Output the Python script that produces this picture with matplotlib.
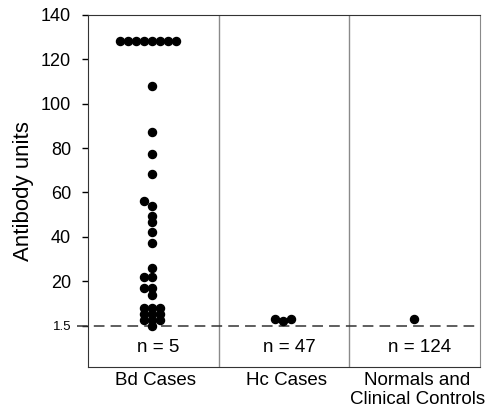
import numpy as np
import matplotlib.pyplot as plt

plt.rcParams['font.family'] = ['Liberation Sans', 'DejaVu Sans']

groups = ['Bd Cases', 'Hc Cases', 'Normals and\nClinical Controls']
n_text = ['n = 5', 'n = 47', 'n = 124']

bd = [128, 128, 128, 128, 128, 128, 128, 128,
      108, 87, 77.5, 68.5, 54, 56, 49.5, 46.5, 42, 37,
      26, 22, 22, 17, 17, 14,
      8, 8, 8, 5.3, 5.3, 5.3, 2.6, 2.6, 2.6, 0]
hc = [2.2, 3.2, 3.2]
normals = [3.2]
values = [bd, hc, normals]

cutoff_label = '1.5'
yticks = [0, 20, 40, 60, 80, 100, 120, 140]

fig = plt.figure(figsize=(4.91, 4.12), dpi=100)
ax = fig.add_axes([0.179, 0.110, 0.799, 0.854])
ax.set_xlim(0, 3)
ax.set_ylim(-18.5, 140)

# simple swarm: put each point in the first free column
def swarm(vals, center, step=0.062, min_px=5.5):
    ppx = 392 / 3.0
    ppy = 351.7 / 158.5
    order = [0, -1, 1, -2, 2, -3, 3, -4, 4, -5, 5]
    placed = []
    xs = []
    for v in vals:
        for k in order:
            x = center + k * step
            ok = True
            for (px, pv) in placed:
                d = np.hypot((x - px) * ppx, (v - pv) * ppy)
                if d < min_px:
                    ok = False
                    break
            if ok:
                break
        placed.append((x, v))
        xs.append(x)
    return xs

for i, vals in enumerate(values):
    xs = swarm(vals, i + 0.49)
    ax.plot(xs, vals, 'o', color='black', markersize=5.8, zorder=3)
    ax.text(i + 0.54, -9.8, n_text[i], ha='center', va='center', fontsize=13.5)

for xv in [1, 2]:
    ax.axvline(xv, color='#8a8a8a', lw=1.0)

ax.plot([-0.085, 3], [0, 0], color='#333333', lw=1.1, dashes=(7, 4),
        clip_on=False, zorder=2)

ax.set_yticks(yticks)
ax.set_yticklabels([cutoff_label] + [str(t) for t in yticks[1:]])
ax.tick_params(axis='y', labelsize=13, length=4, width=1, pad=8)
ax.get_yticklabels()[0].set_fontsize(9.5)
ax.set_xticks([i + 0.52 for i in range(3)])
ax.set_xticklabels(groups, fontsize=13.5, linespacing=1.15)
ax.tick_params(axis='x', length=0, pad=4)
ax.set_ylabel('Antibody units', fontsize=16, labelpad=5)

for s in ['left', 'bottom', 'top']:
    ax.spines[s].set_color('#333333')
ax.spines['right'].set_color('#8a8a8a')

fig.savefig('out.png', dpi=100)
